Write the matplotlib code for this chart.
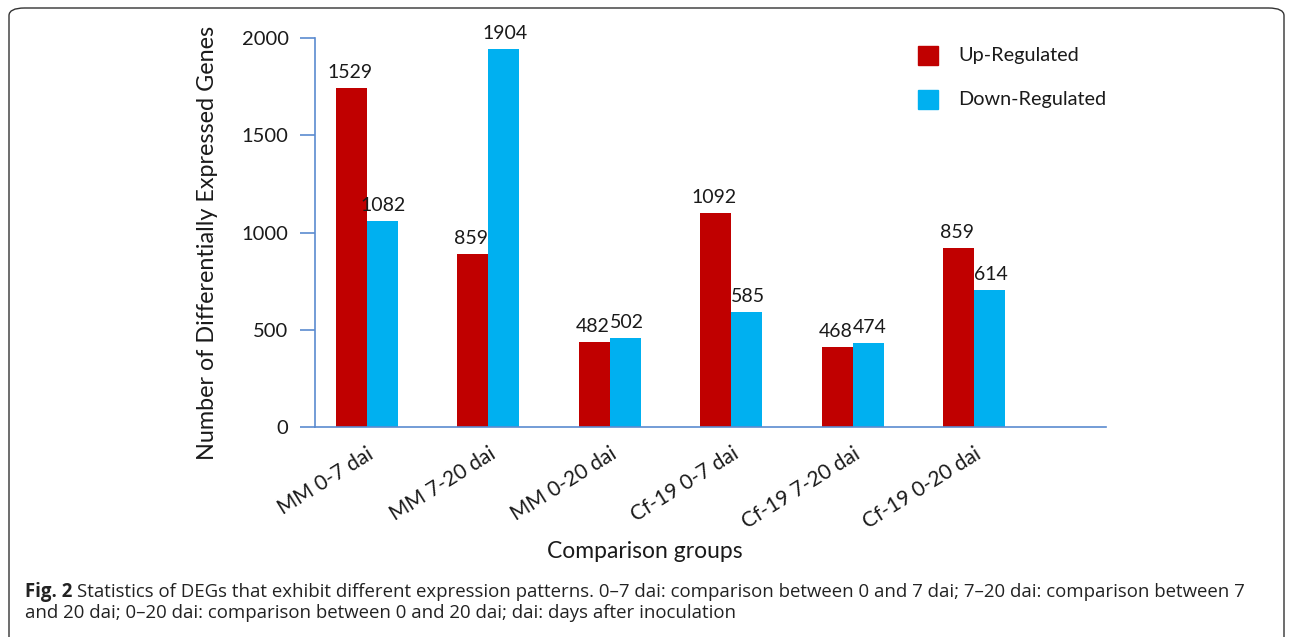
import matplotlib
matplotlib.use("Agg")
import matplotlib.pyplot as plt
from matplotlib.patches import FancyBboxPatch, Rectangle
import numpy as np

# ---- data ----
categories = ["MM 0-7 dai", "MM 7-20 dai", "MM 0-20 dai",
              "Cf-19 0-7 dai", "Cf-19 7-20 dai", "Cf-19 0-20 dai"]
up_heights = [1745, 889, 437, 1102, 413, 919]       # bar heights as drawn
down_heights = [1061, 1943, 456, 593, 433, 704]
up_labels = ["1529", "859", "482", "1092", "468", "859"]  # printed numbers
down_labels = ["1082", "1904", "502", "585", "474", "614"]
series_names = ["Up-Regulated", "Down-Regulated"]
yticks = [0, 500, 1000, 1500, 2000]

RED = "#C00000"
BLUE = "#00B0F0"
AXC = "#5B8BD0"
TXT = "#1a1a1a"
FONT = ["Lato", "DejaVu Sans"]

plt.rcParams["font.family"] = FONT

fig = plt.figure(figsize=(12.92, 6.37), dpi=100)
W, H = 1292, 637
ax = fig.add_axes([315 / W, 1 - 427 / H, (1106 - 315) / W, (427 - 38) / H])

x = np.arange(len(categories))
bw = 0.255
b1 = ax.bar(x - bw / 2, up_heights, bw, color=RED, label=series_names[0], zorder=2)
b2 = ax.bar(x + bw / 2, down_heights, bw, color=BLUE, label=series_names[1], zorder=2)

for rects, labs, dx in ((b1, up_labels, -1), (b2, down_labels, 1)):
    for r, t in zip(rects, labs):
        ax.annotate(t, (r.get_x() + r.get_width() / 2, r.get_height()),
                    xytext=(dx, 5), textcoords="offset points",
                    ha="center", va="bottom", fontsize=14, color=TXT)

ax.set_xlim(-0.4255, 6.085)
ax.set_ylim(0, 2000)
ax.set_yticks(yticks)
ax.set_yticklabels([str(v) for v in yticks], fontsize=14.5, color=TXT)
ax.tick_params(axis="y", length=11, width=1.2, color=AXC, pad=8)
ax.set_xticks(x)
ax.set_xticklabels(categories, rotation=32, ha="right", rotation_mode="anchor",
                   fontsize=15, color=TXT)
ax.tick_params(axis="x", length=0, pad=12)
for s in ("top", "right"):
    ax.spines[s].set_visible(False)
for s in ("left", "bottom"):
    ax.spines[s].set_color(AXC)
    ax.spines[s].set_linewidth(1.2)

ax.set_ylabel("Number of Differentially Expressed Genes", fontsize=16.8,
              color=TXT, ha="center", va="center")
ax.yaxis.set_label_coords(-0.1365, 0.474)

# axis title
fig.text(645 / W, 1 - 551 / H, "Comparison groups", ha="center", va="center",
         fontsize=16.5, color=TXT)

# legend
for i, (name, col) in enumerate(zip(series_names, [RED, BLUE])):
    yc = 55 + i * 44
    fig.patches.append(Rectangle((918 / W, 1 - (yc + 9.5) / H), 20 / W, 19 / H,
                                 transform=fig.transFigure, color=col))
    fig.text(958 / W, 1 - yc / H, name, ha="left", va="center", fontsize=14.3,
             color=TXT)

# caption (auto-fit to the reference line width)
cap_font = ["Open Sans", "DejaVu Sans"]
CAPC = "#222222"
line1 = ("Statistics of DEGs that exhibit different expression patterns. 0\u20137 dai: "
         "comparison between 0 and 7 dai; 7\u201320 dai: comparison between 7")
line2 = "and 20 dai; 0\u201320 dai: comparison between 0 and 20 dai; dai: days after inoculation"
fs = 12.0
t1 = fig.text(25 / W, 1 - 597 / H, "Fig. 2", ha="left", va="baseline", fontsize=fs,
              fontweight="bold", family=cap_font, color=CAPC)
fig.canvas.draw()
r = fig.canvas.get_renderer()
bb = t1.get_window_extent(r)
t2 = fig.text((bb.x1 + 5) / W, 1 - 597 / H, line1, ha="left", va="baseline",
              fontsize=fs, family=cap_font, color=CAPC)
fig.canvas.draw()
w = t2.get_window_extent(r).x1 - 25
scale = (1242 - 25) / w
fs2 = fs * scale
t1.set_fontsize(fs2)
fig.canvas.draw()
bb = t1.get_window_extent(r)
t2.set_fontsize(fs2)
t2.set_x((bb.x1 + 5) / W)
fig.text(25 / W, 1 - 618 / H, line2, ha="left", va="baseline", fontsize=fs2,
         family=cap_font, color=CAPC)

# rounded border
fig.patches.append(FancyBboxPatch((9 / W, -0.02), (1284 - 9) / W, 1 - 8 / H + 0.02,
                                  boxstyle="round,pad=0,rounding_size=0.012",
                                  transform=fig.transFigure, fill=False,
                                  edgecolor="#333333", linewidth=1.0))

fig.savefig("out.png", dpi=100)
